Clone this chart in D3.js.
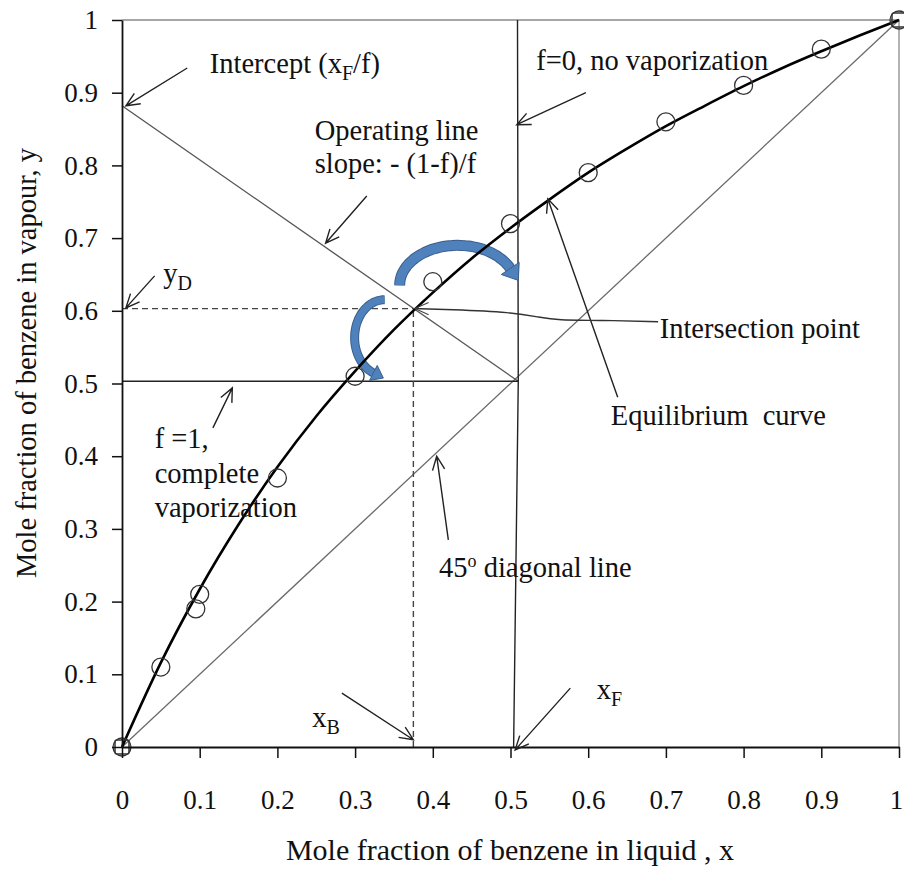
<!DOCTYPE html>
<html>
<head>
<meta charset="utf-8">
<script src="https://cdn.jsdelivr.net/npm/d3@7"></script>
<style>
  body { margin: 0; background: #fff; }
  svg text { font-family: "Liberation Serif", "Times New Roman", serif; fill: #111; }
</style>
</head>
<body>
<div id="chart"></div>
<script>
const width = 904, height = 875;
const serif = '"Liberation Serif", "Times New Roman", serif';

// equilibrium data points (circles)
const eqX = [0, 0.05, 0.095, 0.1, 0.2, 0.3, 0.4, 0.5, 0.6, 0.7, 0.8, 0.9, 1];
const eqY = [0, 0.11, 0.19, 0.21, 0.37, 0.51, 0.64, 0.72, 0.79, 0.86, 0.91, 0.96, 1];

// smooth equilibrium curve
const curveX = [0, 0.05, 0.1, 0.15, 0.2, 0.25, 0.3, 0.35, 0.4, 0.45, 0.5,
                0.55, 0.6, 0.65, 0.7, 0.75, 0.8, 0.85, 0.9, 0.95, 1];
const curveY = [0, 0.116, 0.217, 0.306, 0.385, 0.455, 0.517, 0.574, 0.625, 0.672, 0.714,
                0.753, 0.79, 0.823, 0.854, 0.882, 0.909, 0.934, 0.957, 0.979, 1];

const tickValues = [0, 0.1, 0.2, 0.3, 0.4, 0.5, 0.6, 0.7, 0.8, 0.9, 1];

// key points of the flash construction
const xF = 0.51, yF = 0.503;       // feed point on the diagonal
const interceptY = 0.882;          // xF/f
const xB = 0.375, yD = 0.603;      // intersection point

const x = d3.scaleLinear().domain([0, 1]).range([122, 899]);
const y = d3.scaleLinear().domain([0, 1]).range([747, 20]);

const svg = d3.select("#chart")
  .append("svg")
  .attr("width", width)
  .attr("height", height);

// frame (top & right)
svg.append("path")
  .attr("d", `M${x(0)},${y(1)}H${x(1)}V${y(0)}`)
  .attr("fill", "none")
  .attr("stroke", "#8a8a8a")
  .attr("stroke-width", 1.3);

// straight construction lines
const segments = [
  { p: [[0, 0], [1, 1]], color: "#6a6a6a", w: 1.3 },                 // 45 deg diagonal
  { p: [[0, interceptY], [xF, yF]], color: "#555", w: 1.3 },          // operating line
  { p: [[0.504, 0], [xF, yF], [0.509, 1]], color: "#222", w: 1.4 },   // f = 0
  { p: [[0, yF], [xF, yF]], color: "#222", w: 1.4 },                  // f = 1
  { p: [[0, yD], [xB, yD]], color: "#444", w: 1.4, dash: "6,4" },
  { p: [[xB, 0], [xB, yD]], color: "#444", w: 1.4, dash: "6,4" }
];

const line = d3.line().x(d => x(d[0])).y(d => y(d[1]));

svg.selectAll(".seg")
  .data(segments)
  .enter()
  .append("path")
  .classed("seg", true)
  .attr("d", d => line(d.p))
  .attr("fill", "none")
  .attr("stroke", d => d.color)
  .attr("stroke-width", d => d.w)
  .attr("stroke-dasharray", d => d.dash || null);

// blue curved arrows (pixel radii, centres in data units)
const blueArrows = [
  { c: [0.432, 0.635], rx: 58, ry: 40, t0: 180, t1: 335, w: 9 },
  { c: [0.338, 0.563], rx: 30, ry: 38, t0: 270, t1: 112, w: 7 }
];

blueArrows.forEach(a => {
  const cx = x(a.c[0]), cy = y(a.c[1]);
  const ts = d3.range(0, 41).map(i => (a.t0 + (a.t1 - a.t0) * i / 40) * Math.PI / 180);
  const pts = ts.map(t => [cx + a.rx * Math.cos(t), cy + a.ry * Math.sin(t)]);
  const band = d3.line().curve(d3.curveCatmullRom)(pts);
  svg.append("path").attr("d", band).attr("fill", "none")
    .attr("stroke", "#3a5f8c").attr("stroke-width", a.w + 2);
  svg.append("path").attr("d", band).attr("fill", "none")
    .attr("stroke", "#4f81bd").attr("stroke-width", a.w);
  const tEnd = ts[ts.length - 1], sgn = a.t1 > a.t0 ? 1 : -1;
  let tx = -a.rx * Math.sin(tEnd) * sgn, ty = a.ry * Math.cos(tEnd) * sgn;
  const len = Math.hypot(tx, ty); tx /= len; ty /= len;
  const nx = -ty, ny = tx, e = pts[pts.length - 1];
  const hw = a.w * 1.2, hl = a.w * 1.6;
  svg.append("path")
    .attr("d", `M${e[0] + nx * hw},${e[1] + ny * hw}L${e[0] + tx * hl},${e[1] + ty * hl}L${e[0] - nx * hw},${e[1] - ny * hw}Z`)
    .attr("fill", "#4f81bd")
    .attr("stroke", "#3a5f8c")
    .attr("stroke-width", 1);
});

// equilibrium curve
const curvePts = curveX.map((d, i) => [d, curveY[i]]);
svg.append("path")
  .attr("d", d3.line().x(d => x(d[0])).y(d => y(d[1])).curve(d3.curveMonotoneX)(curvePts))
  .attr("fill", "none")
  .attr("stroke", "#000")
  .attr("stroke-width", 2.6);

svg.selectAll(".pt")
  .data(eqX.map((d, i) => [d, eqY[i]]))
  .enter()
  .append("circle")
  .classed("pt", true)
  .attr("cx", d => x(d[0]))
  .attr("cy", d => y(d[1]))
  .attr("r", 9)
  .attr("fill", "none")
  .attr("stroke", "#333")
  .attr("stroke-width", 1.3);

// square markers at the ends of the diagonal
svg.selectAll(".sq")
  .data([[0, 0], [1, 1]])
  .enter()
  .append("rect")
  .classed("sq", true)
  .attr("x", d => x(d[0]) - 7)
  .attr("y", d => y(d[1]) - 7)
  .attr("width", 14)
  .attr("height", 14)
  .attr("rx", 2)
  .attr("fill", "none")
  .attr("stroke", "#333")
  .attr("stroke-width", 1.5);

// axes
const fmt = d3.format("~g");
const xAxis = svg.append("g")
  .attr("transform", `translate(0,${y(0)})`)
  .call(d3.axisBottom(x).tickValues(tickValues).tickFormat(fmt).tickSize(11).tickSizeOuter(0).tickPadding(32));
const yAxis = svg.append("g")
  .attr("transform", `translate(${x(0)},0)`)
  .call(d3.axisLeft(y).tickValues(tickValues).tickFormat(fmt).tickSize(10).tickSizeOuter(0).tickPadding(14));

[xAxis, yAxis].forEach(g => {
  g.attr("font-family", null);
  g.select(".domain").attr("stroke", "#111").attr("stroke-width", 1.8);
  g.selectAll(".tick line").attr("stroke", "#111").attr("stroke-width", 1.5);
  g.selectAll(".tick text")
    .style("font-family", serif)
    .style("font-size", "27px")
    .attr("fill", "#111");
});
// keep the last x label inside the picture
xAxis.selectAll(".tick text").filter(d => d === 1).attr("dx", -3);

svg.append("text")
  .attr("x", 510).attr("y", 860)
  .attr("text-anchor", "middle")
  .style("font-family", serif)
  .style("font-size", "30px")
  .text("Mole fraction of benzene in liquid , x");

svg.append("text")
  .attr("transform", "translate(36,363) rotate(-90)")
  .attr("text-anchor", "middle")
  .style("font-family", serif)
  .style("font-size", "28.5px")
  .text("Mole fraction of benzene in vapour, y");

// annotation arrows (data units)
const arrows = [
  [[0.084, 0.934], [0.005, 0.882]],
  [[0.597, 0.900], [0.508, 0.856]],
  [[0.315, 0.758], [0.262, 0.693]],
  [[0.638, 0.481], [0.548, 0.754]],
  [[0.042, 0.648], [0.005, 0.604]],
  [[0.117, 0.439], [0.142, 0.494]],
  [[0.420, 0.285], [0.405, 0.400]],
  [[0.283, 0.074], [0.375, 0.010]],
  [[0.577, 0.081], [0.506, -0.004]]
];

function vHead(x1, y1, x2, y2) {
  const a = Math.atan2(y2 - y1, x2 - x1), L = 15;
  return `M${x2 + L * Math.cos(a + Math.PI - 0.42)},${y2 + L * Math.sin(a + Math.PI - 0.42)}` +
         `L${x2},${y2}L${x2 + L * Math.cos(a + Math.PI + 0.42)},${y2 + L * Math.sin(a + Math.PI + 0.42)}`;
}

arrows.forEach(a => {
  const x1 = x(a[0][0]), y1 = y(a[0][1]), x2 = x(a[1][0]), y2 = y(a[1][1]);
  svg.append("path")
    .attr("d", `M${x1},${y1}L${x2},${y2}` + vHead(x1, y1, x2, y2))
    .attr("fill", "none")
    .attr("stroke", "#222")
    .attr("stroke-width", 1.4);
});

// connector to the intersection point
const connector = [[0.690, 0.585], [0.615, 0.587], [0.560, 0.587], [0.538, 0.591],
                   [0.503, 0.598], [0.42, 0.602], [0.377, 0.603]];
svg.append("path")
  .attr("d", d3.line().x(d => x(d[0])).y(d => y(d[1])).curve(d3.curveBasis)(connector))
  .attr("fill", "none")
  .attr("stroke", "#333")
  .attr("stroke-width", 1.4);
svg.append("path")
  .attr("d", vHead(x(0.42), y(0.603), x(0.377), y(0.603)))
  .attr("fill", "none")
  .attr("stroke", "#444")
  .attr("stroke-width", 1.1);

// annotation texts: [x, y, parts]
const labels = [
  [0.113, 0.927, [["Intercept (x"], ["F", "sub"], ["/f)"]]],
  [0.533, 0.931, [["f=0, no vaporization"]]],
  [0.248, 0.835, [["Operating line"]]],
  [0.248, 0.790, [["slope: - (1-f)/f"]]],
  [0.692, 0.563, [["Intersection point"]]],
  [0.629, 0.443, [["Equilibrium\u00a0 curve"]]],
  [0.042, 0.411, [["f =1,"]]],
  [0.042, 0.363, [["complete"]]],
  [0.042, 0.316, [["vaporization"]]],
  [0.408, 0.234, [["45"], ["o", "sup"], [" diagonal line"]]],
  [0.245, 0.028, [["x"], ["B", "sub"]]],
  [0.611, 0.066, [["x"], ["F", "sub"]]],
  [0.053, 0.638, [["y"], ["D", "sub"]]]
];

labels.forEach(l => {
  const t = svg.append("text")
    .attr("x", x(l[0]))
    .attr("y", y(l[1]))
    .style("font-family", serif)
    .style("font-size", "28.5px");
  let shift = 0;
  l[2].forEach(p => {
    const s = t.append("tspan").text(p[0]);
    let target = 0;
    if (p[1] === "sub") { target = 7; s.style("font-size", "20px"); }
    if (p[1] === "sup") { target = -10; s.style("font-size", "18px"); }
    if (target !== shift) s.attr("dy", target - shift);
    shift = target;
  });
});
</script>
</body>
</html>
